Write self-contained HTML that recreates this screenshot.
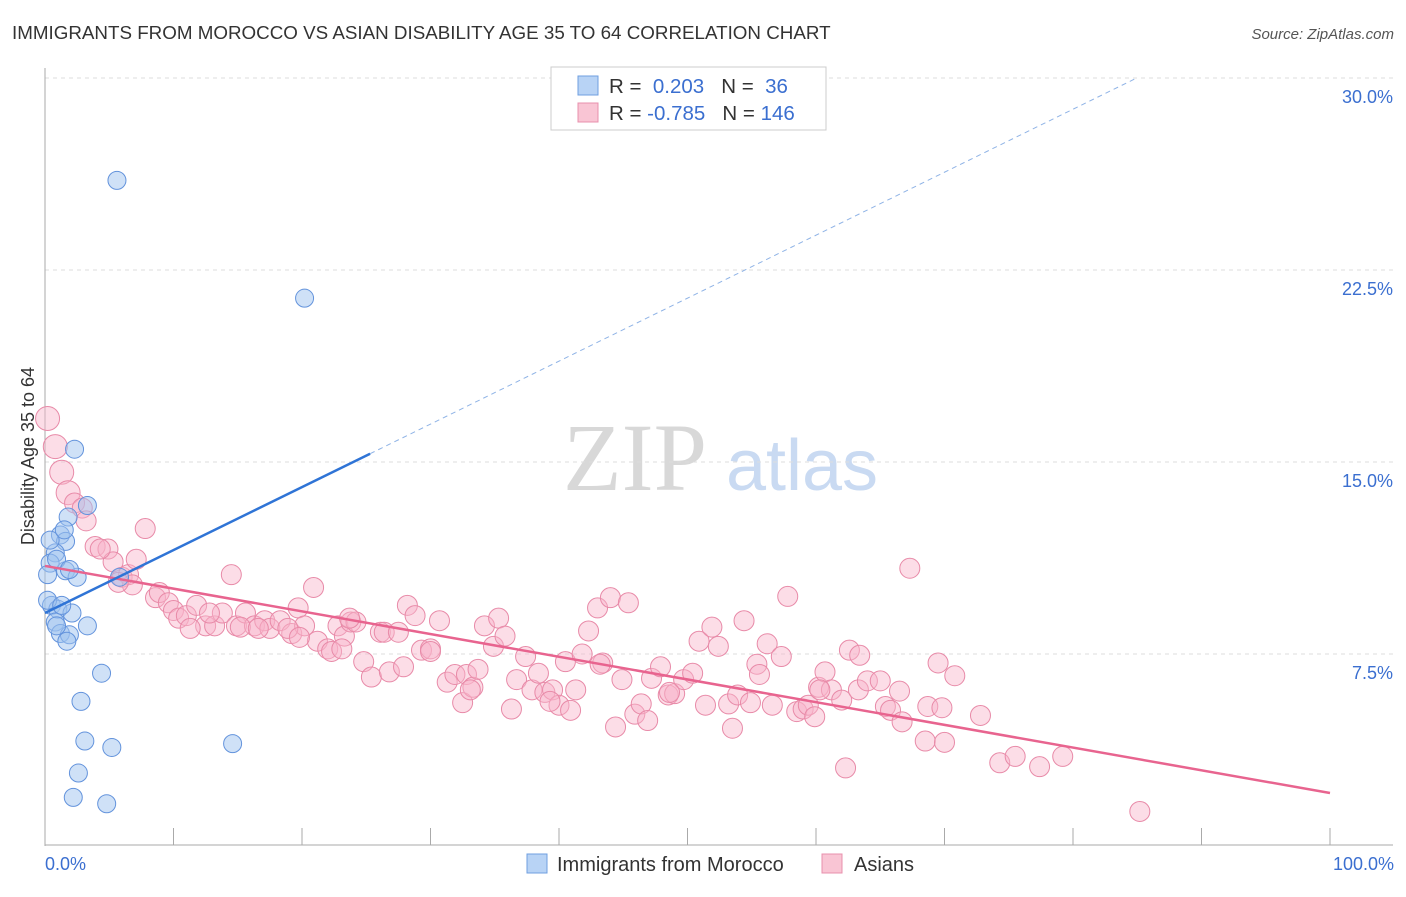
<!DOCTYPE html>
<html><head><meta charset="utf-8"><style>
body{margin:0;background:#fff;font-family:"Liberation Sans",sans-serif}
</style></head><body>
<svg id="chart" width="1406" height="892" xmlns="http://www.w3.org/2000/svg" font-family="Liberation Sans, sans-serif">
<text x="12" y="39" font-size="18.8" fill="#333">IMMIGRANTS FROM MOROCCO VS ASIAN DISABILITY AGE 35 TO 64 CORRELATION CHART</text>
<text x="1394" y="39" font-size="15" fill="#555" text-anchor="end" font-style="italic">Source: ZipAtlas.com</text>
<g>
<text x="635" y="490" font-size="96" font-family="Liberation Serif, serif" fill="#d8d8d8" text-anchor="middle">ZIP</text>
<text x="802" y="490" font-size="72" fill="#c9daf2" text-anchor="middle">atlas</text>
</g>
<g id="grid"></g><g id="axes"></g><g id="marks"></g>
<text transform="translate(34,456) rotate(-90)" font-size="18" fill="#333" text-anchor="middle">Disability Age 35 to 64</text>
<g>
<rect x="551" y="67" width="275" height="63" fill="#fff" stroke="#ccc"/>
<rect x="578" y="76" width="20" height="19" fill="#b8d3f5" stroke="#6f9fe0"/>
<rect x="578" y="103" width="20" height="19" fill="#f9c5d4" stroke="#e890ad"/>
<text x="609" y="93" font-size="20.5" fill="#333">R = <tspan fill="#3b6fd0">&#160;0.203</tspan>&#160;&#160;&#160;N = <tspan fill="#3b6fd0">&#160;36</tspan></text>
<text x="609" y="120" font-size="20.5" fill="#333">R = <tspan fill="#3b6fd0">-0.785</tspan>&#160;&#160;&#160;N = <tspan fill="#3b6fd0">146</tspan></text>
</g>
<g>
<rect x="527" y="854" width="20" height="19" fill="#b8d3f5" stroke="#6f9fe0"/>
<text x="557" y="871" font-size="20" fill="#333">Immigrants from Morocco</text>
<rect x="822" y="854" width="20" height="19" fill="#f9c5d4" stroke="#e890ad"/>
<text x="854" y="871" font-size="20" fill="#333">Asians</text>
</g>
</svg>
<script>
const yTicks=[7.5,15,22.5,30];
const yTickLabels=["7.5%","15.0%","22.5%","30.0%"];
const xTickVals=[0,10,20,30,40,50,60,70,80,90,100];
const blueX=[5.6,20.2,2.3,3.3,1.8,1.2,1.6,0.8,0.4,0.2,1.6,2.5,5.8,0.5,1.0,2.1,0.8,3.3,1.2,1.9,1.7,4.4,2.8,3.1,5.2,14.6,2.6,2.2,4.8,0.4,0.9,0.2,1.3,1.9,0.9,1.5];
const blueY=[26.0,21.4,15.5,13.3,12.85,12.15,11.9,11.45,11.05,10.6,10.75,10.5,10.5,9.4,9.25,9.1,8.75,8.6,8.3,8.25,8.0,6.75,5.65,4.1,3.85,4.0,2.85,1.9,1.65,11.95,11.2,9.6,9.4,10.8,8.6,12.35];
const pinkX=[0.2,0.8,1.3,1.8,2.3,2.9,3.2,3.9,4.9,5.3,6.0,6.5,6.8,7.8,8.6,8.9,9.6,10.0,10.4,11.0,11.8,12.5,13.2,13.8,14.5,14.9,15.6,16.3,17.1,17.5,18.3,19.2,19.7,20.2,20.9,21.2,22.0,22.3,22.8,23.3,23.8,24.2,24.8,25.4,26.1,26.4,26.8,27.5,27.9,28.2,28.8,29.3,30.0,30.7,31.3,31.9,32.5,32.8,33.3,33.7,34.2,34.9,35.3,35.8,36.3,36.7,37.4,37.9,38.4,38.9,39.5,40.0,40.5,40.9,41.3,41.8,42.3,43.0,43.4,44.0,44.4,44.9,45.4,45.9,46.4,46.9,47.2,47.9,48.5,49.0,49.7,50.4,50.9,51.4,51.9,52.4,53.2,53.5,53.9,54.4,54.9,55.4,56.2,56.6,57.3,57.8,58.5,59.0,59.4,59.9,60.2,60.7,61.2,62.0,62.6,62.3,63.3,64.0,65.0,65.4,65.8,66.5,66.7,67.3,68.5,68.7,69.5,70.0,70.8,69.8,72.8,74.3,75.5,77.4,79.2,85.2,7.1,4.3,5.7,11.3,12.8,15.2,16.6,18.9,19.8,23.1,23.7,30.0,33.1,39.3,43.2,48.6,55.6,60.3,63.4];
const pinkY=[16.7,15.6,14.6,13.8,13.4,13.2,12.7,11.7,11.6,11.1,10.5,10.6,10.2,12.4,9.7,9.9,9.5,9.2,8.9,9.0,9.4,8.6,8.6,9.1,10.6,8.6,9.1,8.6,8.8,8.5,8.8,8.3,9.3,8.6,10.1,8.0,7.7,7.6,8.6,8.2,8.75,8.75,7.2,6.6,8.35,8.35,6.8,8.35,7.0,9.4,9.0,7.65,7.7,8.8,6.4,6.7,5.6,6.7,6.2,6.9,8.6,7.8,8.9,8.2,5.35,6.5,7.4,6.1,6.75,6.0,6.1,5.5,7.2,5.3,6.1,7.5,8.4,9.3,7.15,9.7,4.65,6.5,9.5,5.15,5.55,4.9,6.55,7.0,5.9,5.95,6.5,6.75,8.0,5.5,8.55,7.8,5.55,4.6,5.9,8.8,5.6,7.1,7.9,5.5,7.4,9.75,5.25,5.35,5.5,5.05,6.2,6.8,6.1,5.7,7.65,3.05,6.1,6.45,6.45,5.45,5.3,6.05,4.85,10.85,4.1,5.45,7.15,4.05,6.65,5.4,5.1,3.25,3.5,3.1,3.5,1.35,11.2,11.6,10.3,8.5,9.1,8.55,8.5,8.5,8.15,7.7,8.9,7.6,6.1,5.65,7.1,6.0,6.7,6.1,7.45];
const blueTrend=[9.1,0.246];  // intercept, slope
const pinkTrend=[10.94,-0.0887];
const NS="http://www.w3.org/2000/svg";
const X0=45,X1=1330,Y0=846,PPY=25.6;
const sx=v=>X0+(X1-X0)*v/100, sy=v=>Y0-v*PPY;
function mk(tag,attrs,parent){const e=document.createElementNS(NS,tag);for(const k in attrs)e.setAttribute(k,attrs[k]);parent.appendChild(e);return e;}
const grid=document.getElementById('grid'),axes=document.getElementById('axes'),marks=document.getElementById('marks');
yTicks.forEach((t,i)=>{
 const l=mk('line',{x1:45,x2:1393,y1:sy(t),y2:sy(t),stroke:'#ddd','stroke-dasharray':'4,4'},grid);
 
 
 const tx=mk('text',{x:1393,y:sy(t)+25,'font-size':18,fill:'#3b6fd0','text-anchor':'end'},axes);
 tx.textContent=yTickLabels[i];
 
 
});
const ya=mk('line',{x1:45,x2:45,y1:68,y2:846,stroke:'#aaa'},axes);


const xa=mk('line',{x1:45,x2:1393,y1:845,y2:845,stroke:'#aaa'},axes);


xTickVals.forEach(v=>{const t=mk('line',{x1:sx(v),x2:sx(v),y1:828,y2:845,stroke:'#aaa'},axes);
 
 });
const xl0=mk('text',{x:45,y:870,'font-size':18,fill:'#3b6fd0'},axes);xl0.textContent='0.0%';


const xl1=mk('text',{x:1394,y:870,'font-size':18,fill:'#3b6fd0','text-anchor':'end'},axes);xl1.textContent='100.0%';


pinkX.forEach((x,i)=>{const r=(pinkY[i]>13.5&&x<3)?12:10;
 const c=mk('circle',{cx:sx(x),cy:sy(pinkY[i]),r:r,fill:'rgba(248,180,202,0.45)',stroke:'#e88aa8','stroke-width':1},marks);
 
 });
blueX.forEach((x,i)=>{const c=mk('circle',{cx:sx(x),cy:sy(blueY[i]),r:9,fill:'rgba(160,196,240,0.5)',stroke:'#6393dc','stroke-width':1},marks);
 
 });
const pt=mk('line',{x1:sx(0),y1:sy(pinkTrend[0]),x2:sx(100),y2:sy(pinkTrend[0]+pinkTrend[1]*100),stroke:'#e8648f','stroke-width':2.5},marks);


const bt=mk('line',{x1:sx(0),y1:sy(blueTrend[0]),x2:sx(25.3),y2:sy(blueTrend[0]+blueTrend[1]*25.3),stroke:'#2f74d6','stroke-width':2.5},marks);


const bd=mk('line',{x1:sx(25.3),y1:sy(blueTrend[0]+blueTrend[1]*25.3),x2:sx(84.8),y2:sy(blueTrend[0]+blueTrend[1]*84.8),stroke:'#8fb3e6','stroke-width':1,'stroke-dasharray':'5,4'},marks);


</script>
</body></html>
